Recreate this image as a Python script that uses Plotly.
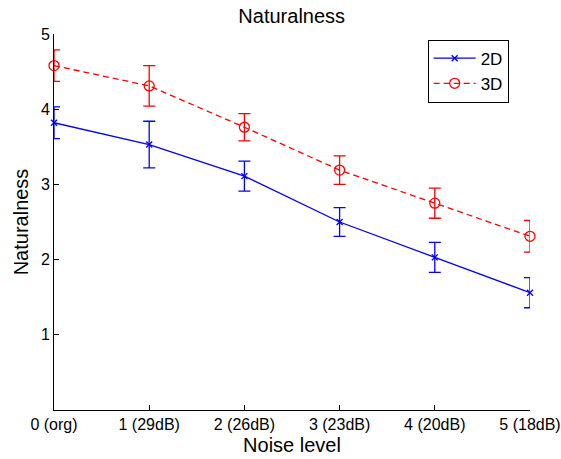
import plotly.graph_objects as go

categories = ["0 (org)", "1 (29dB)", "2 (26dB)", "3 (23dB)", "4 (20dB)", "5 (18dB)"]
x_vals = [0, 1, 2, 3, 4, 5]
y_2d = [3.82, 3.53, 3.11, 2.50, 2.03, 1.56]
err_2d = [0.21, 0.31, 0.20, 0.19, 0.20, 0.20]
y_3d = [4.58, 4.31, 3.76, 3.19, 2.75, 2.31]
err_3d = [0.21, 0.27, 0.18, 0.19, 0.20, 0.21]

font = "Liberation Sans"

fig = go.Figure()
fig.add_trace(go.Scatter(
    x=x_vals, y=y_2d, name="2D", mode="lines+markers",
    line=dict(color="#0000ff", width=1.3),
    marker=dict(symbol="x-thin", size=6, line=dict(color="#0000ff", width=1.3)),
    error_y=dict(type="data", array=err_2d, color="#0000ff", thickness=1.3, width=6),
    cliponaxis=False,
))
fig.add_trace(go.Scatter(
    x=x_vals, y=y_3d, name="3D", mode="lines+markers",
    line=dict(color="#ff0000", width=1.3, dash="6px,4px"),
    marker=dict(symbol="circle-open", size=10, color="#ff0000", line=dict(color="#ff0000", width=1.3)),
    error_y=dict(type="data", array=err_3d, color="#ff0000", thickness=1.3, width=6),
    cliponaxis=False,
))

fig.update_layout(
    width=561, height=459,
    margin=dict(l=54, r=31, t=34, b=49, autoexpand=False),
    paper_bgcolor="white", plot_bgcolor="white",
    font=dict(family=font, size=16, color="black"),
    title=dict(text="Naturalness", x=0.52, xanchor="center", y=0.965, yanchor="middle",
               font=dict(size=20, family=font, color="black")),
    showlegend=True,
    legend=dict(x=0.785, y=0.985, xanchor="left", yanchor="top",
                bordercolor="black", borderwidth=1, bgcolor="white",
                font=dict(size=17, family=font), tracegroupgap=0,
                itemwidth=42),
    xaxis=dict(range=[0, 5], tickvals=x_vals, ticktext=categories,
               showline=True, linecolor="black", linewidth=1,
               ticks="inside", ticklen=5, tickcolor="black",
               showgrid=False, zeroline=False, automargin=False,
               title=dict(text="Noise level", font=dict(size=20, family=font), standoff=5),
               tickfont=dict(size=16, family=font)),
    yaxis=dict(range=[0, 5], tickvals=[1, 2, 3, 4, 5],
               showline=True, linecolor="black", linewidth=1,
               ticks="inside", ticklen=5, tickcolor="black",
               showgrid=False, zeroline=False, automargin=False,
               title=dict(text="Naturalness", font=dict(size=20, family=font), standoff=6),
               tickfont=dict(size=16, family=font)),
)

fig.write_html("out.html")
